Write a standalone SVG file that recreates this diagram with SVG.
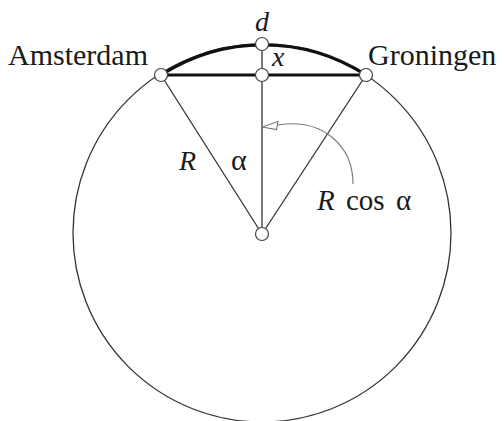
<svg xmlns="http://www.w3.org/2000/svg" width="504" height="421" viewBox="0 0 504 421">
<style>
.thin{fill:none;stroke:#333;stroke-width:1.3}
.thick{fill:none;stroke:#111;stroke-width:3.2}
.node{fill:#fff;stroke:#444;stroke-width:1.2}
.lbl{font-family:"Liberation Serif",serif;fill:#1a1a1a}
.it{font-style:italic}
.ptr{fill:none;stroke:#777;stroke-width:1.1}
</style>
<rect width="504" height="421" fill="#fff"/>
<g id="connectors">
<circle class="thin" cx="262" cy="233" r="189"/>
<path class="thick" d="M161,75 A189,189 0 0 1 366,75"/>
<line class="thick" x1="161" y1="75" x2="366" y2="75"/>
<line class="thin" x1="262" y1="44" x2="262" y2="234"/>
<line class="thin" x1="161" y1="75" x2="262" y2="234"/>
<line class="thin" x1="366" y1="75" x2="262" y2="234"/>
<path class="ptr" d="M353,184 C353,145 322,118 278,125"/>
<polygon points="262,127 278,121.5 276.5,129.5" fill="#fff" stroke="#777" stroke-width="1.1"/>
</g>
<g id="amsterdam"><circle class="node" cx="161" cy="75" r="6.5"/><text class="lbl" x="8" y="65" font-size="30">Amsterdam</text></g>
<g id="groningen"><circle class="node" cx="366" cy="75" r="6.5"/><text class="lbl" x="368" y="65" font-size="30">Groningen</text></g>
<g id="top"><circle class="node" cx="262" cy="44" r="6.5"/><text class="lbl it" x="262" y="31" font-size="28" text-anchor="middle">d</text></g>
<g id="mid"><circle class="node" cx="262" cy="75" r="6.5"/><text class="lbl it" x="272" y="66" font-size="28">x</text></g>
<g id="center"><circle class="node" cx="262" cy="234" r="6.5"/></g>
<text class="lbl it" x="179" y="170" font-size="28">R</text>
<text class="lbl" x="231" y="170" font-size="30">α</text>
<text class="lbl" y="210" font-size="29"><tspan class="it" x="317">R</tspan><tspan x="346">cos</tspan><tspan x="396">α</tspan></text>
</svg>
